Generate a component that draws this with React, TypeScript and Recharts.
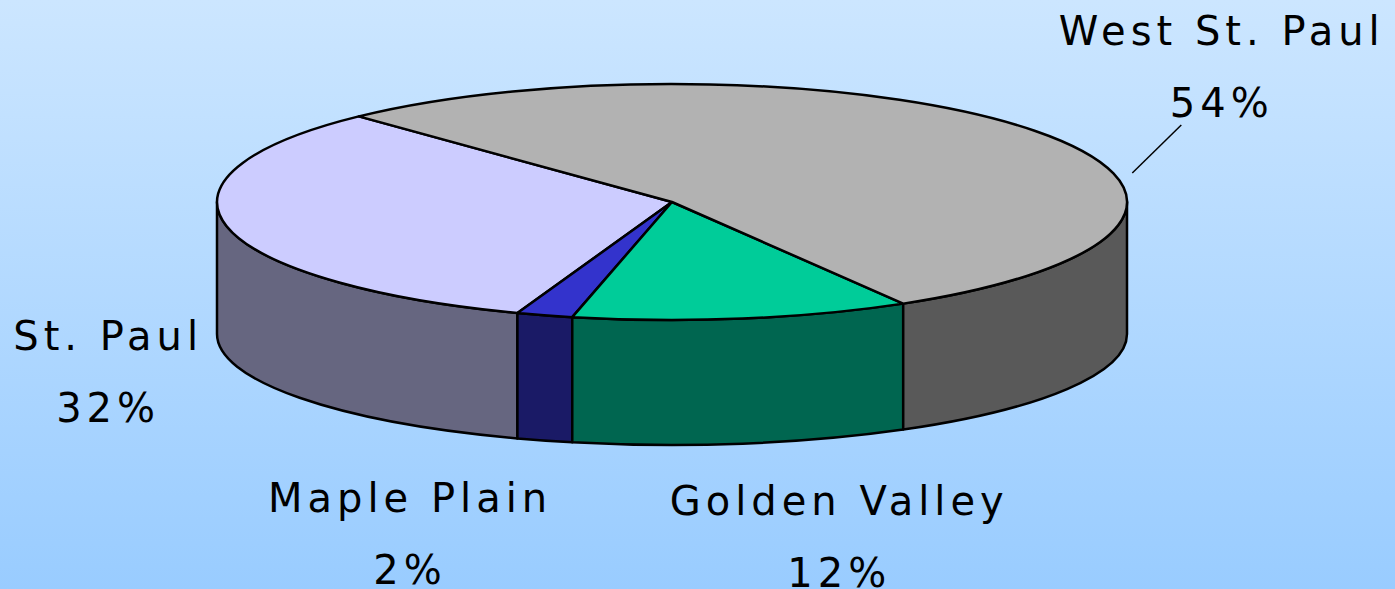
import { PieChart, Pie } from 'recharts';

const categories = ['St. Paul', 'Maple Plain', 'Golden Valley', 'West St. Paul'];
const shares = [32.4, 2, 12, 53.6];
const topColors = ['#CCCCFF', '#3333CC', '#00CC99', '#B2B2B2'];
const sideColors = ['#666680', '#1A1A66', '#006650', '#595959'];

const data = categories.map((name, i) => ({ name, value: shares[i] }));

const W = 1395;
const H = 589;
const CX = 672;
const CY = 202;
const RX = 455;
const TILT = 118 / 455;
const DEPTH = 132;
const BOTTOM_RY = 111;
const LINE_GAP = 72;

// label offsets from the slice's rim point (name baseline)
const labelNudge = [
  [-121, -8],
  [-137, 65],
  [94, 64],
  [184, -86],
];

const pt = (cx: number, cy: number, rx: number, ry: number, a: number) => {
  const r = (a * Math.PI) / 180;
  return [cx + rx * Math.cos(r), cy - ry * Math.sin(r)];
};

function Slice3D(props: any) {
  const { cx, cy, outerRadius, startAngle, endAngle, midAngle, index, value } = props;
  const rx = outerRadius;
  const ry = outerRadius * TILT;
  const top = (a: number) => pt(cx, cy, rx, ry, a);
  const bot = (a: number) => pt(cx, cy + DEPTH, rx, BOTTOM_RY, a);

  const sides: string[] = [];
  for (const k of [0, 1]) {
    const lo = Math.max(startAngle, 180 + 360 * k);
    const hi = Math.min(endAngle, 360 + 360 * k);
    if (hi > lo) {
      const [x1, y1] = top(lo);
      const [x2, y2] = top(hi);
      const [x3, y3] = bot(hi);
      const [x4, y4] = bot(lo);
      sides.push(
        `M${x1},${y1} A${rx},${ry} 0 0 0 ${x2},${y2} L${x3},${y3} A${rx},${BOTTOM_RY} 0 0 1 ${x4},${y4} Z`
      );
    }
  }

  const [sx, sy] = top(startAngle);
  const [ex, ey] = top(endAngle);
  const large = endAngle - startAngle > 180 ? 1 : 0;
  const topPath = `M${cx},${cy} L${sx},${sy} A${rx},${ry} 0 ${large} 0 ${ex},${ey} Z`;

  const rad = (midAngle * Math.PI) / 180;
  const [mx, myTop] = top(midAngle);
  const my = Math.sin(rad) < 0 ? myTop + DEPTH : myTop;
  const lx = mx + labelNudge[index][0];
  const ly = my + labelNudge[index][1];

  const textStyle = {
    fontFamily: '"DejaVu Sans", Verdana, sans-serif',
    fontSize: 40,
    letterSpacing: 5,
  };

  return (
    <g>
      {sides.map((d, i) => (
        <path key={i} d={d} fill={sideColors[index]} stroke="#000" strokeWidth={2.5} strokeLinejoin="round" />
      ))}
      <path d={topPath} fill={topColors[index]} stroke="#000" strokeWidth={2.5} strokeLinejoin="round" />
      {index === 3 && (
        <line x1={lx - 38} y1={ly + LINE_GAP + 8} x2={lx - 87} y2={ly + LINE_GAP + 56} stroke="#000" strokeWidth={1.5} />
      )}
      <text x={lx + 2.5} y={ly} textAnchor="middle" fill="#000" style={textStyle}>
        {categories[index]}
      </text>
      <text x={lx + 2.5} y={ly + LINE_GAP} textAnchor="middle" fill="#000" style={textStyle}>
        {Math.round(value)}%
      </text>
    </g>
  );
}

export default function App() {
  return (
    <div
      style={{
        position: 'absolute',
        left: 0,
        top: 0,
        width: W,
        height: H,
        background: 'linear-gradient(#CCE6FF, #99CCFF)',
      }}
    >
      <PieChart width={W} height={H} margin={{ top: 0, right: 0, bottom: 0, left: 0 }}>
        <Pie
          data={data}
          dataKey="value"
          nameKey="name"
          cx={CX}
          cy={CY}
          outerRadius={RX}
          startAngle={133.5}
          endAngle={493.5}
          fill="none"
          stroke="none"
          label={Slice3D}
          labelLine={false}
          isAnimationActive={false}
        />
      </PieChart>
    </div>
  );
}
